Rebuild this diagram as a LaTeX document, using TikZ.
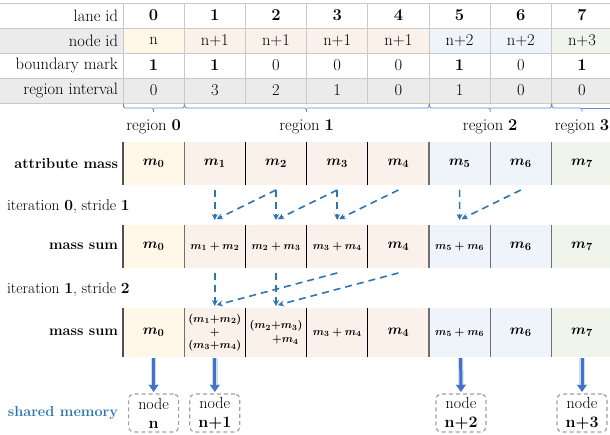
\documentclass[tikz,border=0pt]{standalone}
\usepackage{fontspec}
\usetikzlibrary{arrows.meta,calc}
\definecolor{ccream}{HTML}{FFF8E8}
\definecolor{cpink}{HTML}{FBF1EB}
\definecolor{cblue}{HTML}{EEF4FA}
\definecolor{cgreen}{HTML}{F0F4EB}
\definecolor{graybg}{HTML}{EBEBEB}
\definecolor{gridc}{HTML}{C9C9C9}
\definecolor{dblue}{HTML}{2E75B6}
\definecolor{mblue}{HTML}{4472C4}
\definecolor{braceblue}{HTML}{5B8BD6}
\definecolor{boxgray}{HTML}{A0A0A0}
\definecolor{sepA}{HTML}{505050}
\definecolor{sepB}{HTML}{707070}
\newcommand\mlarge[1]{{\fontsize{15.5}{17}\selectfont\boldmath$#1$}}
\newcommand\msmall[1]{{\fontsize{10.8}{12}\selectfont\boldmath$#1$}}
\newcommand\regfont{\fontsize{16.5}{18}\selectfont}
\newcommand\iterfont{\fontsize{15.5}{18}\selectfont}
\begin{document}
\begin{tikzpicture}[x=1pt,y=-1pt,
  every node/.style={inner sep=0pt, outer sep=0pt},
  txt/.style={font=\regfont},
  gridline/.style={draw=gridc, line width=0.8pt},
  bracestyle/.style={draw=braceblue, line width=0.9pt, rounded corners=1.5pt},
  cell/.style={minimum width=61.2pt, minimum height=43pt, draw=none},
  sepline/.style={line width=1.2pt},
  dasharrow/.style={draw=dblue, line width=1.6pt, dash pattern=on 7pt off 5pt, -{Stealth[length=6pt,width=6pt]}},
  memarrow/.style={draw=mblue, line width=3pt, -{Triangle[length=7pt,width=9pt]},
     preaction={draw=mblue!25, line width=5.5pt, -{Triangle[length=8pt,width=11pt]}}},
  membox/.style={draw=boxgray, dash pattern=on 4pt off 3pt, line width=1.2pt, rounded corners=5pt,
     minimum width=50pt, minimum height=38pt, align=center, font=\fontsize{16}{19}\selectfont},
  rowlabel/.style={anchor=east, font=\fontsize{14.5}{17}\selectfont\bfseries},
  tlabel/.style={txt, anchor=east},
  iterlabel/.style={anchor=west, font=\iterfont}
]
\useasboundingbox (0,0) rectangle (610,435);

% ---- table backgrounds
\fill[graybg] (0,28) rectangle (123,53);
\foreach \i/\c in {0/ccream,1/cpink,2/cpink,3/cpink,4/cpink,5/cblue,6/cblue,7/cgreen}
  \fill[\c] ({123+61.2*\i},28) rectangle ++(61.2,25);
\fill[graybg] (0,78) rectangle (612.6,103);
\foreach \y in {3,28,53,78,103} \draw[gridline] (0,\y) -- (612.6,\y);
\foreach \i in {0,...,8} \draw[gridline] ({123+61.2*\i},3) -- ++(0,100);

% ---- table labels
\node[tlabel] (hlane) at (118,15.5) {lane id};
\node[tlabel] (hnode) at (118,40.5) {node id};
\node[tlabel] (hbound) at (118,65.5) {boundary mark};
\node[tlabel] (hint) at (118,90.5) {region interval};

\foreach \i in {0,...,7} \node[txt] (lane\i) at ({153.6+61.2*\i},15.5) {\textbf{\i}};
\foreach \i/\t in {0/n,1/n+1,2/n+1,3/n+1,4/n+1,5/n+2,6/n+2,7/n+3}
  \node[txt] (nid\i) at ({153.6+61.2*\i},40.5) {\t};
\foreach \i/\t in {0/{\textbf{1}},1/{\textbf{1}},2/0,3/0,4/0,5/{\textbf{1}},6/0,7/{\textbf{1}}}
  \node[txt] (bm\i) at ({153.6+61.2*\i},65.5) {\t};
\foreach \i/\t in {0/0,1/3,2/2,3/1,4/0,5/1,6/0,7/0}
  \node[txt] (ri\i) at ({153.6+61.2*\i},90.5) {\t};

% ---- braces
\draw[bracestyle] (123.5,104) |- (153.6,108) -- (153.6,112);
\draw[bracestyle] (153.6,108) -| (184.2,104);
\draw[bracestyle] (184.7,104) |- (306.6,108) -- (306.6,112);
\draw[bracestyle] (306.6,108) -| (429,104);
\draw[bracestyle] (429.5,104) |- (490.2,108) -- (490.2,112);
\draw[bracestyle] (490.2,108) -| (551.4,104);
\draw[bracestyle] (551.9,104) |- (582,108) -- (582,112);
\draw[bracestyle] (582,108) -- (612.6,108);

\node[txt] (reg0) at (153.6,127) {region \textbf{0}};
\node[txt] (reg1) at (306.6,127) {region \textbf{1}};
\node[txt] (reg2) at (490.2,127) {region \textbf{2}};
\node[txt] (reg3) at (582,127) {region \textbf{3}};

% ---- attribute mass row
\node[rowlabel] (lattr) at (118,163.5) {attribute mass};
\foreach \i/\c/\t in {0/ccream/m_0,1/cpink/m_1,2/cpink/m_2,3/cpink/m_3,4/cpink/m_4,5/cblue/m_5,6/cblue/m_6,7/cgreen/m_7}
  \node[cell, fill=\c] (a\i) at ({153.6+61.2*\i},163.5) {\mlarge{\t}};

% ---- mass sum row 1
\node[iterlabel] (it0) at (7,207) {iteration \textbf{0}, stride \textbf{1}};
\node[rowlabel] (lsum1) at (118,246.5) {mass sum};
\node[cell, fill=ccream] (s0) at (153.6,246.5) {\mlarge{m_0}};
\node[cell, fill=cpink] (s1) at (214.8,246.5) {\msmall{m_1+m_2}};
\node[cell, fill=cpink] (s2) at (276,246.5) {\msmall{m_2+m_3}};
\node[cell, fill=cpink] (s3) at (337.2,246.5) {\msmall{m_3+m_4}};
\node[cell, fill=cpink] (s4) at (398.4,246.5) {\mlarge{m_4}};
\node[cell, fill=cblue] (s5) at (459.6,246.5) {\msmall{m_5+m_6}};
\node[cell, fill=cblue] (s6) at (520.8,246.5) {\mlarge{m_6}};
\node[cell, fill=cgreen] (s7) at (582,246.5) {\mlarge{m_7}};

% ---- mass sum row 2
\node[iterlabel] (it1) at (7,290) {iteration \textbf{1}, stride \textbf{2}};
\node[rowlabel] (lsum2) at (118,332.5) {mass sum};
\node[cell, minimum height=49pt, fill=ccream] (t0) at (153.6,332.5) {\mlarge{m_0}};
\node[cell, minimum height=49pt, fill=cpink, align=center, font=\fontsize{10.8}{13}\selectfont] (t1) at (214.8,332.5)
  {\msmall{(m_1{+}m_2)}\\\msmall{+}\\\msmall{(m_3{+}m_4)}};
\node[cell, minimum height=49pt, fill=cpink, align=right, font=\fontsize{10.8}{14}\selectfont] (t2) at (276,332.5)
  {\msmall{(m_2{+}m_3)}\\\msmall{+m_4}\hspace*{4pt}};
\node[cell, minimum height=49pt, fill=cpink] (t3) at (337.2,332.5) {\msmall{m_3+m_4}};
\node[cell, minimum height=49pt, fill=cpink] (t4) at (398.4,332.5) {\mlarge{m_4}};
\node[cell, minimum height=49pt, fill=cblue] (t5) at (459.6,332.5) {\msmall{m_5+m_6}};
\node[cell, minimum height=49pt, fill=cblue] (t6) at (520.8,332.5) {\mlarge{m_6}};
\node[cell, minimum height=49pt, fill=cgreen] (t7) at (582,332.5) {\mlarge{m_7}};

% ---- separators
\foreach \k/\lc in {0/sepA,1/sepB,2/black,3/black,4/black,5/sepB,6/sepB,7/sepB} {
  \draw[sepline, \lc] ({123+61.2*\k},142) -- ++(0,43);
  \draw[sepline, \lc] ({123+61.2*\k},225) -- ++(0,43);
  \draw[sepline, \lc] ({123+61.2*\k},308) -- ++(0,49);
}

% ---- iteration 0 arrows
\foreach \i/\j in {1/2,2/3,3/4,5/6} {
  \draw[dasharrow] ($(a\i.south)+(0,5)$) -- ($(s\i.north)+(0,-5)$);
  \draw[dasharrow] ($(a\j.south)+(0,5)$) -- ($(s\i.north)+(2,-6)$);
}
% ---- iteration 1 arrows
\foreach \i/\j in {1/3,2/4} {
  \draw[dasharrow] ($(s\i.south)+(0,5)$) -- ($(t\i.north)+(0,-2)$);
  \draw[dasharrow] ($(s\j.south)+(0,5)$) -- ($(t\i.north)+(2,-3)$);
}

% ---- shared memory
\node[anchor=east, text=dblue, font=\fontsize{14.5}{17}\selectfont\bfseries] (lshared) at (118,413) {shared memory};
\node[membox] (sm0) at (153.6,413) {node\\\textbf{n}};
\node[membox] (sm1) at (214.8,413) {node\\\textbf{n+1}};
\node[membox] (sm5) at (461,413) {node\\\textbf{n+2}};
\node[membox] (sm7) at (582,413) {node\\\textbf{n+3}};
\foreach \i in {0,1,7} \draw[memarrow] ($(t\i.south)+(0,1)$) -- ($(sm\i.north)+(0,-2)$);
\draw[memarrow] ($(t5.south)+(1,1)$) -- ($(sm5.north)+(0,-2)$);
\end{tikzpicture}
\end{document}
